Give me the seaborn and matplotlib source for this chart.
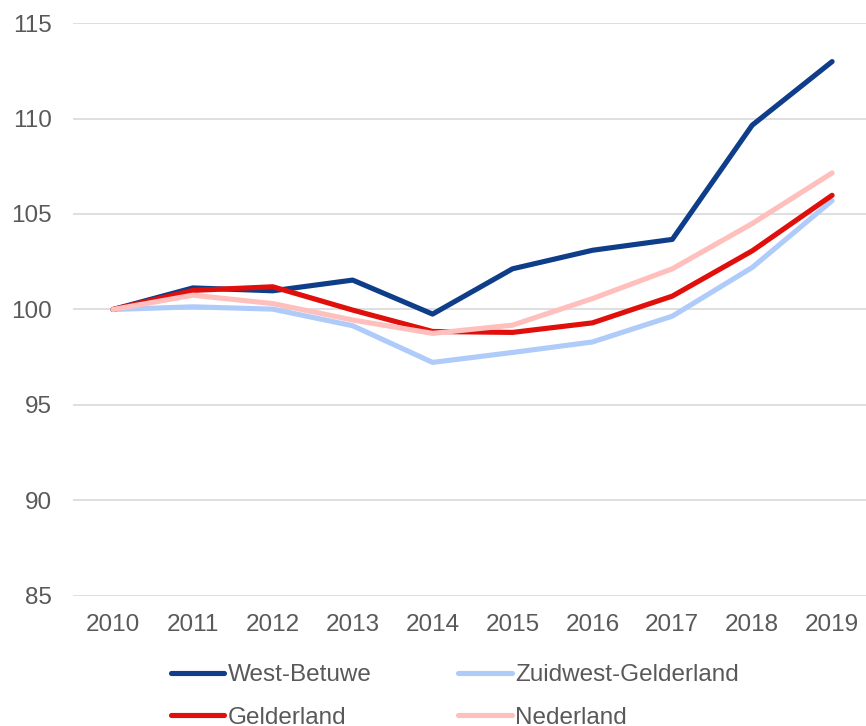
import pandas as pd
import numpy as np
import matplotlib
matplotlib.use("Agg")
import matplotlib.pyplot as plt
import seaborn as sns

# ===============================
# DATA (index 2010 = 100)
# ===============================
jaren = [2010, 2011, 2012, 2013, 2014, 2015, 2016, 2017, 2018, 2019]

west_betuwe = [100, 101.13, 100.98, 101.54, 99.76, 102.13, 103.10, 103.67, 109.65, 112.98]
zuidwest_gelderland = [100, 100.14, 100.02, 99.15, 97.23, 97.75, 98.30, 99.65, 102.20, 105.70]
gelderland = [100, 101.00, 101.19, 99.97, 98.85, 98.80, 99.30, 100.70, 103.07, 105.98]
nederland = [100, 100.75, 100.31, 99.45, 98.75, 99.18, 100.57, 102.13, 104.50, 107.15]

reeksen = ["West-Betuwe", "Zuidwest-Gelderland", "Gelderland", "Nederland"]
kleuren = ["#0E3D8A", "#AECBFA", "#E00F0B", "#FFBFBC"]

df = pd.DataFrame({
    "jaar": jaren * 4,
    "index": west_betuwe + zuidwest_gelderland + gelderland + nederland,
    "gebied": sum([[r] * len(jaren) for r in reeksen], []),
})

# ===============================
# PLOT
# ===============================
sns.set_style("white")
plt.rcParams["font.family"] = ["Liberation Sans", "DejaVu Sans"]
fs = 17.5

fig = plt.figure(figsize=(8.66, 7.26), dpi=100)
ax = fig.add_axes([73 / 866, 1 - 596 / 726, 1 - 73 / 866 + 0.007, (596 - 23) / 726])

sns.lineplot(data=df, x="jaar", y="index", hue="gebied", hue_order=reeksen,
             palette=kleuren, linewidth=3.7, ax=ax, legend=False,
             solid_capstyle="round", solid_joinstyle="round")

ax.set_ylim(85, 115)
ax.set_xlim(2009.5, 2019.5)
ax.set_yticks(np.arange(85, 116, 5))
ax.set_xticks(jaren)
ax.set_xticklabels([str(j) for j in jaren])
ax.set_xlabel("")
ax.set_ylabel("")
ax.yaxis.grid(True, color="#D9D9D9", linewidth=1.2)
ax.set_axisbelow(True)
for s in ax.spines.values():
    s.set_visible(False)
ax.tick_params(axis="both", length=0, labelsize=fs, colors="#595959")
ax.tick_params(axis="y", pad=15)
ax.tick_params(axis="x", pad=13)

# legend: matplotlib vult kolomsgewijs, dus volgorde aanpassen
volgorde = [0, 2, 1, 3]
handles = [plt.Line2D([], [], color=kleuren[i], linewidth=3.7, solid_capstyle="round") for i in volgorde]
labels = [reeksen[i] for i in volgorde]
fig.legend(handles, labels, loc="upper left", bbox_to_anchor=(171 / 866, 1 - 664 / 726),
           ncol=2, frameon=False, fontsize=fs, labelcolor="#595959",
           handlelength=2.2, handletextpad=0.15, columnspacing=3.55,
           labelspacing=0.85, borderpad=0, borderaxespad=0)

fig.savefig("out.png", dpi=100)
